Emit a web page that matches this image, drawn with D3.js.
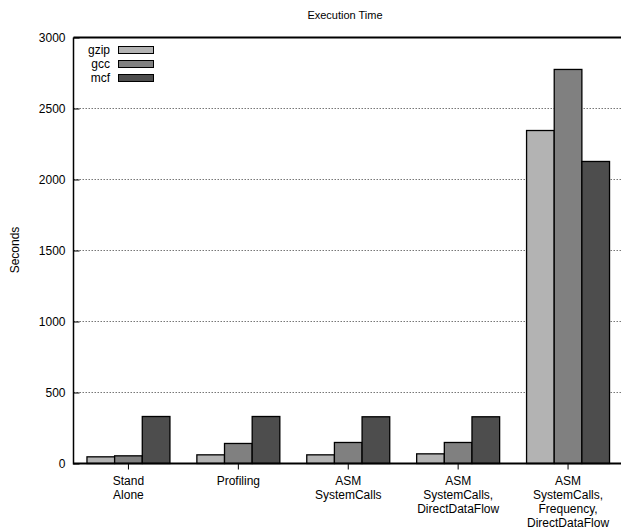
<!DOCTYPE html>
<html><head><meta charset="utf-8">
<script src="https://cdn.jsdelivr.net/npm/d3@7"></script>
<style>body{margin:0;background:#fff}svg{display:block}text{font-family:"Liberation Sans",Arial,sans-serif;fill:#000}</style>
</head><body>
<svg id="c" width="621" height="529"></svg>
<script>
const categories = [["Stand","Alone"],["Profiling"],["ASM","SystemCalls"],["ASM","SystemCalls,","DirectDataFlow"],["ASM","SystemCalls,","Frequency,","DirectDataFlow"]];
const seriesNames = ["gzip","gcc","mcf"];
const gzip = [47, 61, 61, 68, 2345];
const gcc = [54, 141, 148, 148, 2775];
const mcf = [331, 331, 329, 329, 2127];
const colors = ["#b3b3b3","#808080","#4d4d4d"];
const yTicks = [0,500,1000,1500,2000,2500,3000];
const series = [gzip, gcc, mcf];

const svg = d3.select("#c");
const L = 73.5, R = 623, T = 37.5, B = 463.5;
const y = d3.scaleLinear().domain([0,3000]).range([B,T]);
const x = d3.scaleBand().domain(d3.range(categories.length)).range([L, R]).paddingInner(0.245).paddingOuter(0.1225);
const xs = d3.scaleBand().domain(d3.range(3)).range([0, x.bandwidth()]);

// grid
svg.append("g").selectAll("line").data(yTicks.filter(t=>t>0&&t<3000)).join("line")
  .attr("x1",L).attr("x2",R).attr("y1",d=>y(d)).attr("y2",d=>y(d))
  .attr("stroke","#777").attr("stroke-width",1).attr("stroke-dasharray","1.5,1.5");

// bars
const g = svg.append("g");
categories.forEach((c,i)=>{
  series.forEach((s,j)=>{
    g.append("rect").attr("x",x(i)+xs(j)).attr("width",xs.bandwidth())
     .attr("y",y(s[i])).attr("height",B-y(s[i]))
     .attr("fill",colors[j]).attr("stroke","#000").attr("stroke-width",1.3);
  });
});

// frame
svg.append("line").attr("x1",L).attr("x2",R).attr("y1",T).attr("y2",T).attr("stroke","#000").attr("stroke-width",2);
svg.append("line").attr("x1",L).attr("x2",R).attr("y1",B).attr("y2",B).attr("stroke","#000").attr("stroke-width",2);
svg.append("line").attr("x1",L).attr("x2",L).attr("y1",T).attr("y2",B+1).attr("stroke","#000").attr("stroke-width",1.5);

// y axis
const ya = svg.append("g").attr("transform",`translate(${L},0)`)
  .call(d3.axisRight(y).tickValues(yTicks).tickSize(6).tickFormat(d3.format("d")));
ya.select(".domain").remove();
ya.selectAll("line").attr("stroke","#000");
ya.selectAll("text").attr("x",-8).attr("text-anchor","end").style("font-size","12px").style("font-family","Liberation Sans, Arial, sans-serif");

// x axis ticks
const xa = svg.append("g").attr("transform",`translate(0,${B})`);
xa.selectAll("line").data(categories).join("line")
  .attr("x1",(d,i)=>x(i)+x.bandwidth()/2).attr("x2",(d,i)=>x(i)+x.bandwidth()/2)
  .attr("y1",0).attr("y2",6).attr("stroke","#000");
xa.selectAll("text").data(categories).join("text")
  .attr("x",(d,i)=>x(i)+x.bandwidth()/2).attr("y",21)
  .attr("text-anchor","middle").style("font-size","12px")
  .each(function(d){
    const t=d3.select(this);
    d.forEach((line,k)=>t.append("tspan").attr("x",t.attr("x")).attr("dy",k?14:0).text(line));
  });

// title & labels
svg.append("text").attr("x",345).attr("y",19).attr("text-anchor","middle").style("font-size","11px").text("Execution Time");
svg.append("text").attr("transform","translate(19,250) rotate(-90)").attr("text-anchor","middle").style("font-size","12px").text("Seconds");

// legend
seriesNames.forEach((n,j)=>{
  const cy = 50 + j*14;
  svg.append("text").attr("x",110).attr("y",cy+4).attr("text-anchor","end").style("font-size","12px").text(n);
  svg.append("rect").attr("x",118.5).attr("y",cy-3.5).attr("width",35).attr("height",7)
    .attr("fill",colors[j]).attr("stroke","#000").attr("stroke-width",1);
});
</script>
</body></html>
